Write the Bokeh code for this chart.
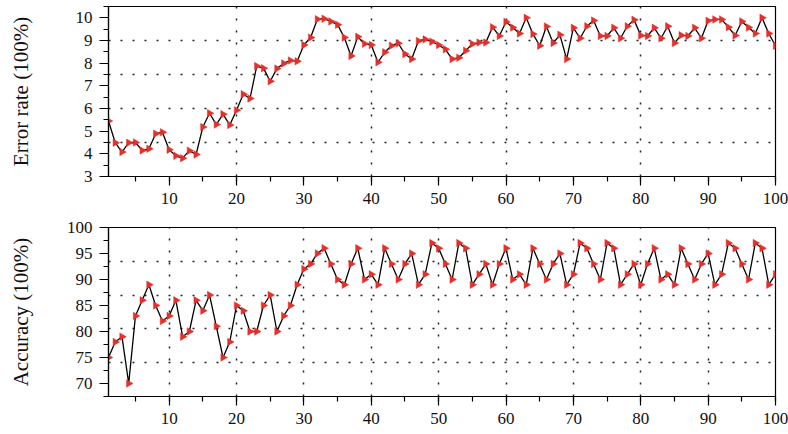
import math
from bokeh.plotting import figure
from bokeh.layouts import column
from bokeh.models import Range1d, SingleIntervalTicker, FixedTicker
from bokeh.embed import file_html
from bokeh.resources import INLINE

epochs = list(range(1, 101))

error_rate = [
    5.45, 4.49, 4.08, 4.49, 4.50, 4.15, 4.22, 4.89, 4.95, 4.18,
    3.91, 3.81, 4.14, 3.97, 5.18, 5.79, 5.29, 5.75, 5.27, 5.92,
    6.63, 6.44, 7.87, 7.78, 7.20, 7.76, 7.99, 8.12, 8.08, 8.80,
    9.13, 9.94, 9.96, 9.84, 9.70, 9.13, 8.32, 9.16, 8.86, 8.80,
    8.04, 8.48, 8.77, 8.88, 8.40, 8.18, 8.98, 9.05, 8.95, 8.80,
    8.61, 8.18, 8.24, 8.55, 8.85, 8.91, 8.91, 9.59, 9.20, 9.82,
    9.57, 9.31, 10.0, 9.29, 8.77, 9.62, 8.89, 9.25, 8.18, 9.56,
    9.10, 9.63, 9.88, 9.20, 9.20, 9.56, 9.10, 9.63, 9.91, 9.22,
    9.20, 9.56, 9.10, 9.63, 8.89, 9.23, 9.20, 9.56, 9.10, 9.87,
    9.93, 9.93, 9.59, 9.22, 9.84, 9.57, 9.31, 10.0, 9.31, 8.77,
]

accuracy = [
    75, 78, 79, 70, 83, 86, 89, 85, 82, 83,
    86, 79, 80, 86, 84, 87, 81, 75, 78, 85,
    84, 80, 80, 85, 87, 80, 83, 85, 89, 92,
    93, 95, 96, 93, 90, 89, 93, 96, 90, 91,
    89, 96, 93, 90, 93, 95, 89, 91, 97, 96,
    93, 90, 97, 96, 89, 91, 93, 89, 93, 96,
    90, 91, 89, 96, 93, 90, 93, 95, 89, 91,
    97, 96, 93, 90, 97, 96, 89, 91, 93, 89,
    93, 96, 90, 91, 89, 96, 93, 90, 93, 95,
    89, 91, 97, 96, 93, 90, 97, 96, 89, 91,
]

top_ylabel = "Error rate (100%)"
bottom_ylabel = "Accuracy (100%)"

FONT = "Liberation Serif"
RED = "#e3302a"


def style(p, ylabel, y_interval, xgrid_ticks, ygrid_ticks, label_standoff):
    p.outline_line_color = "black"
    p.outline_line_width = 1.2
    p.outline_line_alpha = 1.0
    p.xaxis.ticker = SingleIntervalTicker(interval=10, num_minor_ticks=2)
    p.yaxis.ticker = SingleIntervalTicker(interval=y_interval, num_minor_ticks=2)
    for ax in (p.xaxis[0], p.yaxis[0]):
        ax.axis_line_color = "black"
        ax.axis_line_width = 1.2
        ax.major_tick_line_color = "black"
        ax.major_tick_line_width = 1.2
        ax.minor_tick_line_color = "black"
        ax.minor_tick_line_width = 1.2
        ax.major_tick_in = 0
        ax.major_tick_out = 9
        ax.minor_tick_in = 0
        ax.minor_tick_out = 5
        ax.major_label_text_font = FONT
        ax.major_label_text_font_size = "17px"
        ax.major_label_text_color = "#111111"
        ax.major_label_standoff = 7
    p.yaxis.axis_label = ylabel
    p.yaxis.axis_label_text_font = FONT
    p.yaxis.axis_label_text_font_size = "21px"
    p.yaxis.axis_label_text_font_style = "normal"
    p.yaxis.axis_label_text_color = "#111111"
    p.yaxis.axis_label_standoff = label_standoff
    p.xgrid.ticker = FixedTicker(ticks=xgrid_ticks)
    p.ygrid.ticker = FixedTicker(ticks=ygrid_ticks)
    for g in (p.xgrid[0], p.ygrid[0]):
        g.grid_line_color = "#222222"
        g.grid_line_width = 1.5
        g.grid_line_dash = "2 10"
        g.grid_line_alpha = 1.0


def draw(p, xs, ys):
    p.line(xs, ys, line_color="black", line_width=1.3)
    p.scatter(xs, ys, marker="triangle", angle=-math.pi / 2, size=7.5,
              fill_color=RED, line_color=RED, line_width=0.5)


p1 = figure(width=788, height=216, output_backend="svg", toolbar_location=None,
            x_range=Range1d(1, 100), y_range=Range1d(3, 10.5),
            min_border_left=108, min_border_right=13, min_border_top=6,
            min_border_bottom=40)
style(p1, top_ylabel, 1, [20, 40, 60, 80], [4.5, 6, 7.5, 9], 40)
draw(p1, epochs, error_rate)

p2 = figure(width=788, height=218, output_backend="svg", toolbar_location=None,
            x_range=Range1d(1, 100), y_range=Range1d(67.5, 100),
            min_border_left=108, min_border_right=13, min_border_top=11,
            min_border_bottom=38)
style(p2, bottom_ylabel, 5, [10, 20, 30, 40, 50, 60, 70, 80, 90],
      [74, 80.5, 87, 93.5], 31)
draw(p2, epochs, accuracy)

layout = column(p1, p2)
open("out.html", "w").write(file_html(layout, INLINE))
